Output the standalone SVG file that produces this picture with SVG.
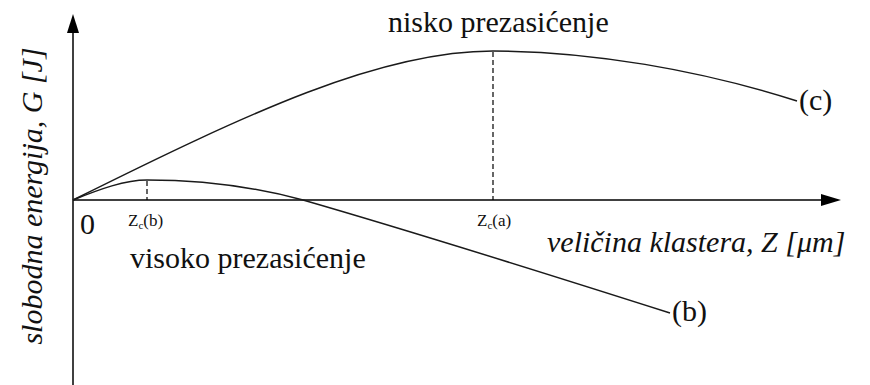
<svg xmlns="http://www.w3.org/2000/svg" width="870" height="385" viewBox="0 0 870 385">
<style>
.ax{stroke:#000;stroke-width:1.5;fill:none}
.cv{stroke:#1a1a1a;stroke-width:1.5;fill:none}
.dash{stroke:#000;stroke-width:1.2;stroke-dasharray:5,3;fill:none}
.t{font-family:'Liberation Serif','Times New Roman',serif;fill:#111}
</style>
<rect width="870" height="385" fill="#fff"/>
<g id="axes">
<line class="ax" x1="73" y1="385" x2="73" y2="30"/>
<polygon points="73,14 67,33 79,33" fill="#000"/>
<line class="ax" x1="73" y1="200" x2="824" y2="200"/>
<polygon points="841,200 821,194 821,206" fill="#000"/>
</g>
<g id="connectors">
<path id="curve-c" class="cv" d="M73,200 C250,112 380,51 493,51 C590,51 700,70 797,101"/>
<path id="curve-b" class="cv" d="M73,200 C100,189 125,180 147,180 C200,180 255,187 303,200 C400,228 560,278 670,313"/>
<line class="dash" x1="147" y1="181" x2="147" y2="200"/>
<line class="dash" x1="493" y1="52" x2="493" y2="200"/>
</g>
<g id="labels" class="t">
<text x="80" y="234" font-size="30">0</text>
<text x="128" y="226" font-size="17">Z<tspan font-size="11" dy="3">c</tspan><tspan dy="-3">(b)</tspan></text>
<text x="477" y="226" font-size="17">Z<tspan font-size="11" dy="3">c</tspan><tspan dy="-3">(a)</tspan></text>
<text x="130" y="268" font-size="30">visoko prezasićenje</text>
<text x="388" y="32" font-size="30">nisko prezasićenje</text>
<text x="547" y="252" font-size="30" font-style="italic">veličina klastera, Z [μm]</text>
<text x="799" y="110" font-size="30">(c)</text>
<text x="672" y="321" font-size="30">(b)</text>
<text transform="translate(42,196) rotate(-90)" text-anchor="middle" font-size="30" font-style="italic">slobodna energija, G [J]</text>
</g>
</svg>
